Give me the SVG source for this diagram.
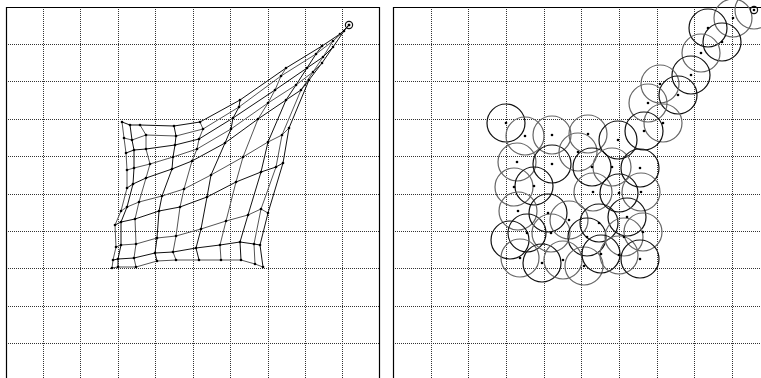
<svg xmlns="http://www.w3.org/2000/svg" width="761" height="378" viewBox="0 0 761 378">
<style>
.grid{stroke:#333;stroke-width:1;stroke-dasharray:1 1;fill:none}
.frame{stroke:#000;stroke-width:1.2;fill:none}
.row{stroke:#111;stroke-width:1;fill:none;marker-start:url(#dot);marker-mid:url(#dot);marker-end:url(#dot)}
.col{stroke:#555;stroke-width:1;fill:none}
.ck{stroke:#111;stroke-width:1.2;fill:none}
.cg{stroke:#666;stroke-width:1.2;fill:none}
.c{fill:#000}
</style>
<defs>
<marker id="dot" markerUnits="userSpaceOnUse" markerWidth="4" markerHeight="4" refX="2" refY="2"><circle cx="2" cy="2" r="1.3" fill="#000"/></marker>
</defs>
<rect width="761" height="378" fill="#fff"/>
<g id="left-panel">
<path class="grid" d="M43.5,7V378M80.5,7V378M118.5,7V378M155.5,7V378M193.5,7V378M230.5,7V378M268.5,7V378M305.5,7V378M342.5,7V378M6,44.5H379M6,81.5H379M6,119.5H379M6,156.5H379M6,194.5H379M6,231.5H379M6,268.5H379M6,306.5H379M6,343.5H379"/>
<path class="frame" d="M6.5,378V7.5H379.5V378"/>
<g id="mesh-columns">
<polyline class="col" points="122,122 124,138 126,153 127,170 127,188 121,211 115,225 116,247 113,260 112,268"/>
<polyline class="col" points="130,125 132,140 134,150 134,168 133,184 127,207 121,222 121,245 118,259 118,267" style="stroke:#111"/>
<polyline class="col" points="140,125 146,135 146,149 150,164 146,178 139,202 135,219 136,244 134,258 136,267"/>
<polyline class="col" points="174,126 176,136 175,145 173,157 172,169 162,196 159,211 157,238 155,253 157,261" style="stroke:#111"/>
<polyline class="col" points="200,122 203,129 199,139 197,149 192,161 184,189 180,207 176,236 173,252 176,260"/>
<polyline class="col" points="240,100 239,107 233,118 231,129 225,143 211,175 207,197 201,229 196,248 199,260" style="stroke:#111"/>
<polyline class="col" points="286,68 281,76 275,90 268,103 258,119 243,157 236,182 226,221 220,245 221,260"/>
<polyline class="col" points="322,46 316,54 307,68 296,85 286,100 268,142 261,172 248,215 240,242 241,260" style="stroke:#111"/>
<polyline class="col" points="340,34 333,41 323,57 313,72 301,90 282,135 276,167 261,209 254,244 255,264"/>
<polyline class="col" points="349,25 344,31 333,47 322,63 309,80 289,128 283,163 268,213 260,245 263,267" style="stroke:#111"/>
</g>
<g id="mesh-rows">
<polyline class="row" points="122,122 130,125 140,125 174,126 200,122 240,100 286,68 322,46 340,34 349,25"/>
<polyline class="row" points="124,138 132,140 146,135 176,136 203,129 239,107 281,76 316,54 333,41 344,31" style="stroke:#555"/>
<polyline class="row" points="126,153 134,150 146,149 175,145 199,139 233,118 275,90 307,68 323,57 333,47"/>
<polyline class="row" points="127,170 134,168 150,164 173,157 197,149 231,129 268,103 296,85 313,72 322,63" style="stroke:#555"/>
<polyline class="row" points="127,188 133,184 146,178 172,169 192,161 225,143 258,119 286,100 301,90 309,80"/>
<polyline class="row" points="121,211 127,207 139,202 162,196 184,189 211,175 243,157 268,142 282,135 289,128" style="stroke:#555"/>
<polyline class="row" points="115,225 121,222 135,219 159,211 180,207 207,197 236,182 261,172 276,167 283,163"/>
<polyline class="row" points="116,247 121,245 136,244 157,238 176,236 201,229 226,221 248,215 261,209 268,213" style="stroke:#555"/>
<polyline class="row" points="113,260 118,259 134,258 155,253 173,252 196,248 220,245 240,242 254,244 260,245"/>
<polyline class="row" points="112,268 118,267 136,267 157,261 176,260 199,260 221,260 241,260 255,264 263,267" style="stroke:#555"/>
</g>
<circle cx="349" cy="25" r="3.6" class="ck"/>
<circle cx="349" cy="25" r="1.3" class="c"/>
</g>
<g id="right-panel">
<path class="grid" d="M431.5,7V378M468.5,7V378M506.5,7V378M544.5,7V378M581.5,7V378M619.5,7V378M657.5,7V378M694.5,7V378M732.5,7V378M393,44.5H761M393,81.5H761M393,119.5H761M393,156.5H761M393,194.5H761M393,231.5H761M393,268.5H761M393,306.5H761M393,343.5H761"/>
<path class="frame" d="M393.5,378V7.5H761"/>
<g id="circles">
<circle class="cg" cx="754" cy="10" r="19"/>
<circle class="cg" cx="733" cy="18" r="19"/>
<circle class="ck" cx="708" cy="28" r="19"/>
<circle class="ck" cx="722" cy="42" r="19"/>
<circle class="cg" cx="701" cy="53" r="19"/>
<circle class="ck" cx="691" cy="75" r="19"/>
<circle class="cg" cx="660" cy="84" r="19"/>
<circle class="ck" cx="678" cy="95" r="19"/>
<circle class="cg" cx="648" cy="103" r="19"/>
<circle class="cg" cx="663" cy="123" r="19"/>
<circle class="ck" cx="644" cy="131" r="19"/>
<circle class="ck" cx="506" cy="123" r="19"/>
<circle class="cg" cx="525" cy="136" r="19"/>
<circle class="cg" cx="552" cy="135" r="19"/>
<circle class="cg" cx="588" cy="134" r="19"/>
<circle class="ck" cx="618" cy="140" r="19"/>
<circle class="cg" cx="517" cy="162" r="19"/>
<circle class="ck" cx="552" cy="164" r="19"/>
<circle class="cg" cx="578" cy="152" r="19"/>
<circle class="ck" cx="592" cy="167" r="19"/>
<circle class="cg" cx="612" cy="167" r="19"/>
<circle class="ck" cx="640" cy="168" r="19"/>
<circle class="cg" cx="514" cy="187" r="19"/>
<circle class="ck" cx="534" cy="186" r="19"/>
<circle class="cg" cx="593" cy="192" r="19"/>
<circle class="ck" cx="619" cy="193" r="19"/>
<circle class="cg" cx="641" cy="192" r="19"/>
<circle class="cg" cx="518" cy="211" r="19"/>
<circle class="ck" cx="548" cy="213" r="19"/>
<circle class="cg" cx="569" cy="220" r="19"/>
<circle class="ck" cx="599" cy="223" r="19"/>
<circle class="ck" cx="627" cy="217" r="19"/>
<circle class="ck" cx="527" cy="233" r="19"/>
<circle class="cg" cx="551" cy="233" r="19"/>
<circle class="ck" cx="587" cy="237" r="19"/>
<circle class="cg" cx="624" cy="237" r="19"/>
<circle class="cg" cx="643" cy="232" r="19"/>
<circle class="ck" cx="510" cy="240" r="19"/>
<circle class="cg" cx="520" cy="258" r="19"/>
<circle class="ck" cx="542" cy="263" r="19"/>
<circle class="cg" cx="563" cy="260" r="19"/>
<circle class="cg" cx="584" cy="266" r="19"/>
<circle class="ck" cx="601" cy="254" r="19"/>
<circle class="cg" cx="619" cy="255" r="19"/>
<circle class="ck" cx="640" cy="259" r="19"/>
</g>
<g id="centres">
<circle class="ck" cx="754" cy="10" r="3.6"/>
<circle class="c" cx="754" cy="10" r="1.3"/>
<circle class="c" cx="733" cy="18" r="1.3"/><circle class="c" cx="708" cy="28" r="1.3"/><circle class="c" cx="722" cy="42" r="1.3"/>
<circle class="c" cx="701" cy="53" r="1.3"/><circle class="c" cx="691" cy="75" r="1.3"/><circle class="c" cx="660" cy="84" r="1.3"/>
<circle class="c" cx="678" cy="95" r="1.3"/><circle class="c" cx="648" cy="103" r="1.3"/><circle class="c" cx="663" cy="123" r="1.3"/>
<circle class="c" cx="644" cy="131" r="1.3"/><circle class="c" cx="506" cy="123" r="1.3"/><circle class="c" cx="525" cy="136" r="1.3"/>
<circle class="c" cx="552" cy="135" r="1.3"/><circle class="c" cx="588" cy="134" r="1.3"/><circle class="c" cx="618" cy="140" r="1.3"/>
<circle class="c" cx="517" cy="162" r="1.3"/><circle class="c" cx="552" cy="164" r="1.3"/><circle class="c" cx="578" cy="152" r="1.3"/>
<circle class="c" cx="592" cy="167" r="1.3"/><circle class="c" cx="612" cy="167" r="1.3"/><circle class="c" cx="640" cy="168" r="1.3"/>
<circle class="c" cx="514" cy="187" r="1.3"/><circle class="c" cx="534" cy="186" r="1.3"/><circle class="c" cx="593" cy="192" r="1.3"/>
<circle class="c" cx="619" cy="193" r="1.3"/><circle class="c" cx="641" cy="192" r="1.3"/><circle class="c" cx="518" cy="211" r="1.3"/>
<circle class="c" cx="548" cy="213" r="1.3"/><circle class="c" cx="569" cy="220" r="1.3"/><circle class="c" cx="599" cy="223" r="1.3"/>
<circle class="c" cx="627" cy="217" r="1.3"/><circle class="c" cx="527" cy="233" r="1.3"/><circle class="c" cx="551" cy="233" r="1.3"/>
<circle class="c" cx="587" cy="237" r="1.3"/><circle class="c" cx="624" cy="237" r="1.3"/><circle class="c" cx="643" cy="232" r="1.3"/>
<circle class="c" cx="520" cy="258" r="1.3"/><circle class="c" cx="542" cy="263" r="1.3"/><circle class="c" cx="563" cy="260" r="1.3"/>
<circle class="c" cx="584" cy="266" r="1.3"/><circle class="c" cx="601" cy="254" r="1.3"/><circle class="c" cx="619" cy="255" r="1.3"/>
<circle class="c" cx="640" cy="259" r="1.3"/>
</g>
</g>
</svg>
